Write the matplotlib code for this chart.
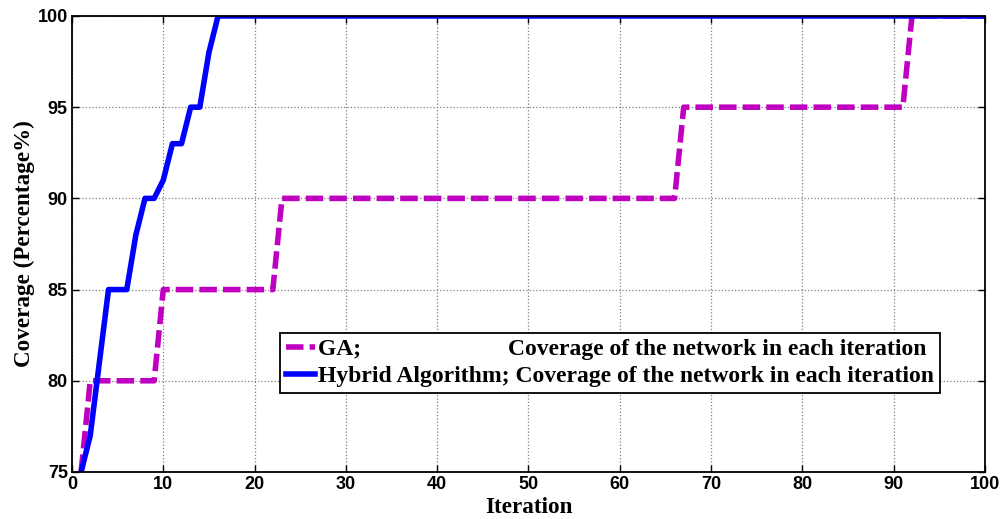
import matplotlib
matplotlib.use('Agg')
import matplotlib.pyplot as plt
import numpy as np

# Iteraciones y cobertura (%)
iteraciones = np.arange(1, 101)
ga = [75] + [80] * 8 + [85] * 13 + [90] * 44 + [95] * 25 + [100] * 9
hibrido = [75, 77, 81, 85, 85, 85, 88, 90, 90, 91, 93, 93, 95, 95, 98] + [100] * 85

etiqueta_ga = 'GA;' + ' ' * 25 + 'Coverage of the network in each iteration'
etiqueta_hib = 'Hybrid Algorithm; Coverage of the network in each iteration'

fig = plt.figure(figsize=(10.08, 5.19), dpi=100)
ax = fig.add_axes([0.0714, 0.0906, 0.9058, 0.8786])

ax.plot(iteraciones, ga, color='#c000c0', lw=4.0, ls=(0, (3.15, 1.1)), label=etiqueta_ga)
ax.plot(iteraciones, hibrido, color='#0000ff', lw=4.0, label=etiqueta_hib)

ax.set_xlim(0, 100)
ax.set_ylim(75, 100)
ax.set_xticks(np.arange(0, 101, 10))
ax.set_yticks(np.arange(75, 101, 5))
ax.grid(True, color='#808080', ls=':', lw=0.9)
ax.tick_params(direction='in', top=True, right=True, length=5, width=1, pad=3)
for lab in ax.get_xticklabels() + ax.get_yticklabels():
    lab.set_fontfamily('Liberation Sans')
    lab.set_fontweight('bold')
    lab.set_fontsize(13)
for s in ax.spines.values():
    s.set_linewidth(1.3)

ax.set_xlabel('Iteration', family='Liberation Serif', weight='bold', fontsize=16.7, labelpad=3)
ax.set_ylabel('Coverage (Percentage%)', family='Liberation Serif', weight='bold', fontsize=16.7, labelpad=2)

leg = ax.legend(loc='lower left', bbox_to_anchor=(0.228, 0.173),
                prop={'family': 'Liberation Serif', 'weight': 'bold', 'size': 17},
                fancybox=False, edgecolor='black', framealpha=1,
                handlelength=1.23, handletextpad=0.13, labelspacing=0.23,
                borderpad=0.25, borderaxespad=0)
leg.get_frame().set_linewidth(1.3)

fig.savefig('out.png', dpi=100)
